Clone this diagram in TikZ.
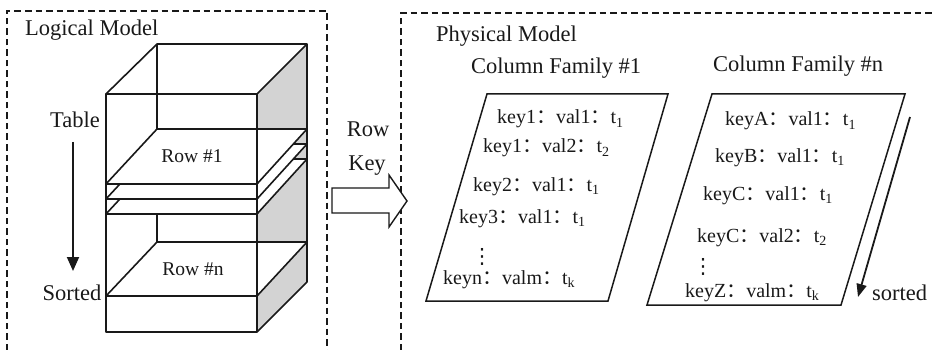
\documentclass[tikz,border=0pt]{standalone}
\usepackage{fontspec}
\setmainfont{Liberation Serif}
\newfontfamily\cjkfont{Noto Sans CJK SC}
\newfontfamily\symfont{DejaVu Sans}
\usetikzlibrary{arrows.meta}
\newcommand{\keycolon}{{\cjkfont ：}}
\definecolor{sidegray}{RGB}{211,211,211}
\definecolor{ink}{RGB}{25,25,25}
\begin{document}
\begin{tikzpicture}[x=1pt,y=-1pt,
  bigtxt/.style={font=\fontsize{22.5}{26}\selectfont, inner sep=0pt, text=ink},
  rowtxt/.style={font=\fontsize{19.5}{23}\selectfont, inner sep=0pt, text=ink},
  kvtxt/.style={font=\fontsize{20}{24}\selectfont, inner sep=0pt, text=ink, anchor=base west},
  dotstxt/.style={font=\symfont\fontsize{21}{24}\selectfont, inner sep=0pt, text=ink, anchor=base},
  dashbox/.style={draw=ink, line width=1.3pt, dash pattern=on 6.5pt off 4pt},
  cubeline/.style={draw=ink, line width=1.6pt, line join=round},
  plane/.style={draw=ink, fill=white, line width=1.6pt, line join=round},
  para/.style={draw=ink, line width=1.5pt, line join=miter},
  sortarrow/.style={draw=ink, line width=1.8pt}
]
\useasboundingbox (0,0) rectangle (934,350);

% dashed frames
\draw[dashbox] (7,350) -- (7,11) -- (327,11) -- (327,350);
\draw[dashbox] (401,350) -- (401,13) -- (934,13);

% ---------- cube ----------
\fill[sidegray] (257,94) -- (307,44) -- (307,282) -- (257,332) -- cycle;
\draw[cubeline] (157,44) -- (157,282);
\draw[cubeline] (106,94) -- (157,44) -- (307,44) -- (257,94);
% slices
\draw[plane] (106,214) -- (257,214) -- (307,159) -- (157,159) -- cycle;
\draw[plane] (106,199) -- (257,199) -- (307,144) -- (157,144) -- cycle;
\draw[plane] (106,184) -- (257,184) -- (307,129) -- (157,129) -- cycle;
\draw[plane] (106,296) -- (257,296) -- (307,242) -- (157,242) -- cycle;
% front edges
\draw[cubeline] (106,94) rectangle (257,332);
\draw[cubeline] (307,44) -- (307,282) -- (257,332);

\node[rowtxt] (row1) at (192,156) {Row \#1};
\node[rowtxt] (rown) at (193,269) {Row \#n};

% left labels
\node[bigtxt, anchor=base west] (logical) at (25,36) {Logical Model};
\node[bigtxt, anchor=base] (table) at (75,128) {Table};
\node[bigtxt, anchor=base] (sorted) at (72,300) {Sorted};
\coordinate (ta) at (73,142);
\coordinate (tb) at (73,271);
\draw[sortarrow, -{Triangle[length=14pt,width=12pt]}] (ta) -- (tb);

% ---------- Row Key block arrow ----------
\node[bigtxt, anchor=base] (rowlbl) at (368,137) {Row};
\node[bigtxt, anchor=base] (keylbl) at (367,170) {Key};
\draw[draw=ink, fill=white, line width=1.4pt, line join=miter]
  (332,188) -- (389,188) -- (389,175) -- (407,201) -- (389,227) -- (389,213) -- (332,213) -- cycle;

% ---------- physical model ----------
\node[bigtxt, anchor=base west] (physical) at (436,42) {Physical Model};
\node[bigtxt, anchor=base west] (cf1) at (471,74) {Column Family \#1};
\node[bigtxt, anchor=base west] (cfn) at (713,72) {Column Family \#n};

\draw[para] (487,94) -- (668,94) -- (608,301) -- (426,301) -- cycle;
\draw[para] (712,94) -- (905,94) -- (841,305) -- (647,305) -- cycle;

\node[kvtxt] (a1) at (497,124) {key1\keycolon val1\keycolon t\textsubscript{1}};
\node[kvtxt] (a2) at (483,153) {key1\keycolon val2\keycolon t\textsubscript{2}};
\node[kvtxt] (a3) at (473,191) {key2\keycolon val1\keycolon t\textsubscript{1}};
\node[kvtxt] (a4) at (459,223) {key3\keycolon val1\keycolon t\textsubscript{1}};
\node[dotstxt] (a5) at (482,263) {⋮};
\node[kvtxt] (a6) at (443,284) {keyn\keycolon valm\keycolon t\textsubscript{k}};

\node[kvtxt] (b1) at (725,126) {keyA\keycolon val1\keycolon t\textsubscript{1}};
\node[kvtxt] (b2) at (715,162) {keyB\keycolon val1\keycolon t\textsubscript{1}};
\node[kvtxt] (b3) at (703,200) {keyC\keycolon val1\keycolon t\textsubscript{1}};
\node[kvtxt] (b4) at (697,242) {keyC\keycolon val2\keycolon t\textsubscript{2}};
\node[dotstxt] (b5) at (703,273) {⋮};
\node[kvtxt] (b6) at (685,297) {keyZ\keycolon valm\keycolon t\textsubscript{k}};

\coordinate (sa) at (910,117);
\coordinate (sb) at (858,297);
\draw[sortarrow, -{Triangle[length=13pt,width=10pt]}] (sa) -- (sb);
\node[bigtxt, anchor=base west] (sortedr) at (872,300) {sorted};
\end{tikzpicture}
\end{document}
